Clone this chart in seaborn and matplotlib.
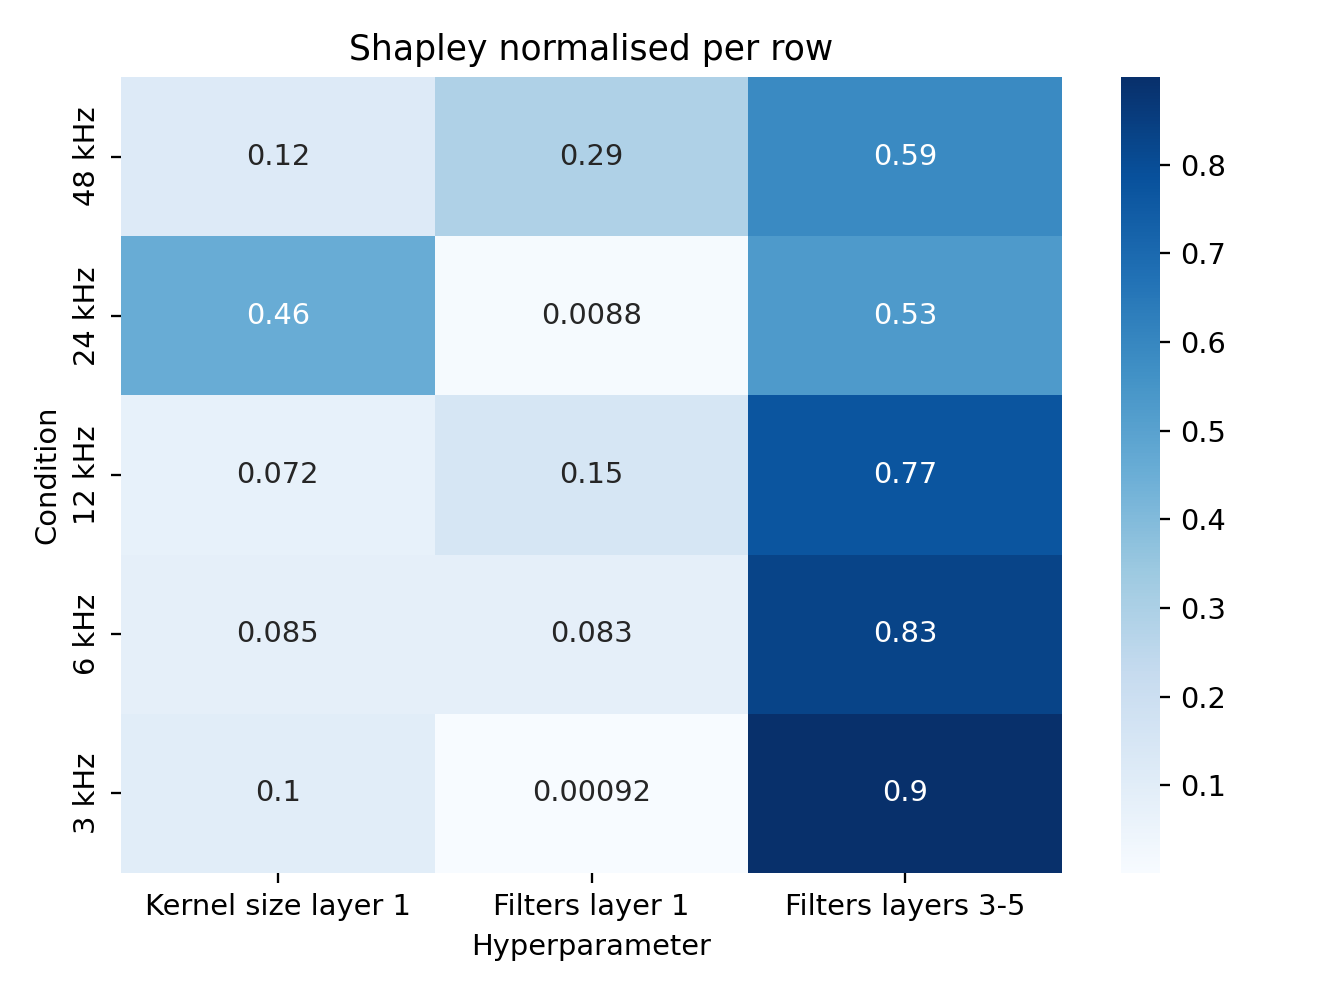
import numpy as np
import pandas as pd
import matplotlib
matplotlib.use('Agg')
import matplotlib.pyplot as plt
import seaborn as sns

# Data
conditions = ['48 kHz', '24 kHz', '12 kHz', '6 kHz', '3 kHz']
hyperparameters = ['Kernel size layer 1', 'Filters layer 1', 'Filters layers 3-5']
kernel_size_l1 = [0.12, 0.46, 0.072, 0.085, 0.10]
filters_l1 = [0.29, 0.0088, 0.15, 0.083, 0.00092]
filters_l3_5 = [0.59, 0.53, 0.77, 0.83, 0.899]

shap = pd.DataFrame({
    hyperparameters[0]: kernel_size_l1,
    hyperparameters[1]: filters_l1,
    hyperparameters[2]: filters_l3_5,
}, index=conditions)

# Plot
W, H = 1328, 996
fig = plt.figure(figsize=(6.4, 4.8), dpi=207.5)
ax = sns.heatmap(data=shap, cmap='Blues', annot=True, fmt='.2g')
plt.title('Shapley normalised per row')
plt.xlabel('Hyperparameter')
plt.ylabel('Condition')

# Place axes and colorbar like the reference
ax.set_position([121 / W, 1 - 873 / H, (1062 - 121) / W, (873 - 77) / H])
cax = ax.collections[0].colorbar.ax
cax.set_box_aspect(None)
cax.set_position([1121 / W, 1 - 873 / H, (1160 - 1121) / W, (873 - 77) / H])

plt.savefig('out.png', dpi=207.5)
